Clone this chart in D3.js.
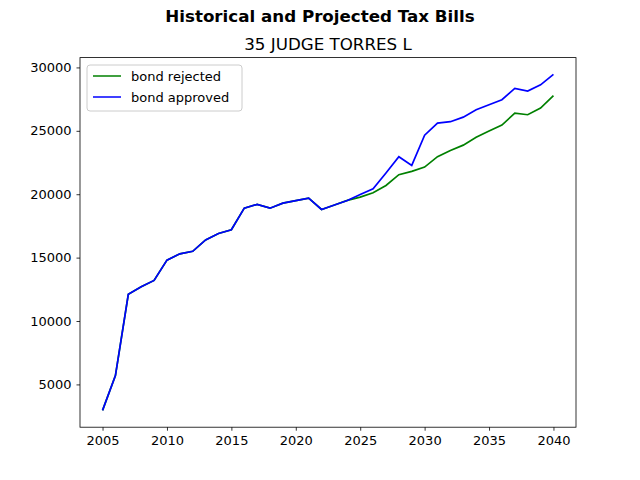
<!DOCTYPE html>
<html><head><meta charset="utf-8">
<script src="https://cdn.jsdelivr.net/npm/d3@7"></script>
<style>body{margin:0;background:#fff}text{font-family:"DejaVu Sans",sans-serif}</style>
</head><body><svg id="c" width="640" height="480"></svg>
<script>
var years = d3.range(2005, 2041);
var rejected = [2950,5700,12100,12700,13200,14800,15300,15500,16400,16900,17200,18900,19200,18900,19300,19500,19690,18800,19150,19510,19770,20120,20690,21540,21800,22140,22960,23450,23870,24500,24980,25450,26400,26270,26790,27770];
var approved = [2950,5700,12100,12700,13200,14800,15300,15500,16400,16900,17200,18900,19200,18900,19300,19500,19690,18800,19150,19510,19980,20430,21670,22960,22270,24660,25610,25720,26080,26660,27060,27450,28340,28130,28630,29450];
var xTicks = [2005,2010,2015,2020,2025,2030,2035,2040];
var yTicks = [5000,10000,15000,20000,25000,30000];
var seriesNames = ["bond rejected","bond approved"];
var colors = ["green","blue"];

var svg = d3.select("#c");
var L=80,R=576,T=57.6,B=427.2;
var x = d3.scaleLinear().domain([2005-1.75,2040+1.75]).range([L,R]);
var y = d3.scaleLinear().domain([1625,30775]).range([B,T]);

svg.append("text").attr("x",320).attr("y",22).attr("text-anchor","middle")
  .style("font-weight","bold").style("font-size","16.7px").text("Historical and Projected Tax Bills");
svg.append("text").attr("x",(L+R)/2).attr("y",50).attr("text-anchor","middle")
  .style("font-size","16.7px").text("35 JUDGE TORRES L");

var line = d3.line().x(function(d,i){return x(years[i]);}).y(function(d){return y(d);});
[rejected,approved].forEach(function(s,i){
  svg.append("path").datum(s).attr("d",line).attr("fill","none").attr("stroke",colors[i]).attr("stroke-width",1.7);
});

var xa = svg.append("g").attr("transform","translate(0,"+B+")")
  .call(d3.axisBottom(x).tickValues(xTicks).tickFormat(d3.format("d")).tickSizeOuter(0).tickSize(3.5).tickPadding(5));
var ya = svg.append("g").attr("transform","translate("+L+",0)")
  .call(d3.axisLeft(y).tickValues(yTicks).tickFormat(d3.format("d")).tickSizeOuter(0).tickSize(3.5).tickPadding(5));
[xa,ya].forEach(function(a){a.selectAll("text").style("font-size","13px").attr("fill","#000");a.select(".domain").remove();a.selectAll("line").attr("stroke","#000").attr("stroke-width",0.8);});
svg.append("rect").attr("x",L).attr("y",T).attr("width",R-L).attr("height",B-T).attr("fill","none").attr("stroke","#000").attr("stroke-width",0.8);

var lg = svg.append("g").attr("transform","translate(87,65)");
lg.append("rect").attr("width",155).attr("height",46).attr("rx",3).attr("fill","#fff").attr("stroke","#ccc");
seriesNames.forEach(function(n,i){
  var yy = 11+i*21;
  lg.append("line").attr("x1",6).attr("x2",34).attr("y1",yy).attr("y2",yy).attr("stroke",colors[i]).attr("stroke-width",1.5);
  lg.append("text").attr("x",44).attr("y",yy+4.5).style("font-size","13px").text(n);
});
</script></body></html>
